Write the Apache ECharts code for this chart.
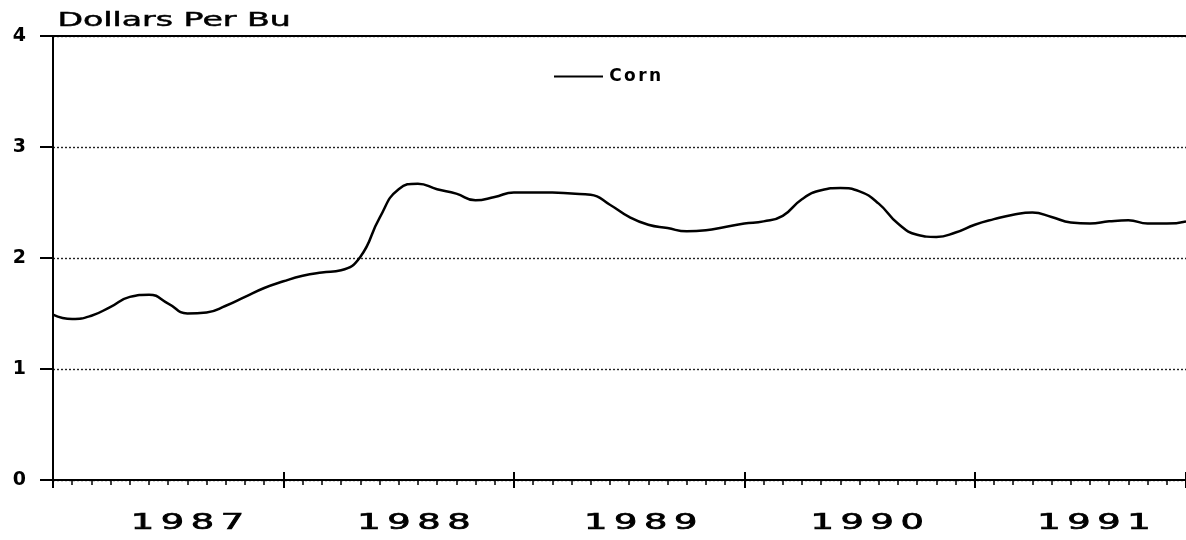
<!DOCTYPE html>
<html>
<head>
<meta charset="utf-8">
<script src="https://cdn.jsdelivr.net/npm/echarts@6/dist/echarts.min.js"></script>
<style>
html,body{margin:0;padding:0;background:#fff;}
#chart{width:1186px;height:540px;}
</style>
</head>
<body>
<div id="chart"></div>
<script>
// Month index 0 = Jan 1987 ... 59 = Dec 1991
const years = ['1987', '1988', '1989', '1990', '1991'];
const yearLabelPos = [7.0, 18.8, 30.6, 42.4, 54.2];
const yTicks = [0, 1, 2, 3, 4];
const cornPrices = [
  1.49, 1.45, 1.48, 1.56, 1.65, 1.67, 1.59, 1.50, 1.51, 1.57, 1.65, 1.73,
  1.79, 1.84, 1.87, 1.89, 2.01, 2.36, 2.62, 2.67, 2.62, 2.58, 2.52, 2.55,
  2.59, 2.59, 2.59, 2.58, 2.57, 2.48, 2.37, 2.30, 2.27, 2.24, 2.25, 2.28,
  2.31, 2.33, 2.38, 2.53, 2.61, 2.63, 2.60, 2.49, 2.31, 2.21, 2.19, 2.23,
  2.30, 2.35, 2.39, 2.41, 2.37, 2.32, 2.31, 2.33, 2.34, 2.31, 2.31, 2.33
];
const seriesName = 'Corn';
const yTitle = 'Dollars Per Bu';

const data = cornPrices.map((v, i) => [i, v]);
const yearLabelData = years.map((y, i) => [yearLabelPos[i], 0]);
const spaced = (s, cls) => s.split('').map(c => `{${cls}|${c}}`).join('');

const chart = echarts.init(document.getElementById('chart'), null, {renderer: 'canvas'});
const baseX = {type: 'value', min: 0, max: 59, interval: 12, position: 'bottom', offset: 0};
chart.setOption({
  animation: false,
  backgroundColor: '#fff',
  grid: {left: 53, right: 0, top: 36, bottom: 60, containLabel: false},
  graphic: [{
    type: 'text', left: 57, top: 11, scaleX: 1.66,
    style: {text: yTitle, font: '20px "DejaVu Sans"', fill: '#000', stroke: '#000', lineWidth: 0.5}
  }],
  legend: {
    left: 549, top: 63, itemWidth: 49, itemHeight: 2, itemGap: 12,
    data: [{name: seriesName, icon: 'rect'}],
    itemStyle: {color: '#000'},
    formatter: n => spaced(n, 'c'),
    textStyle: {rich: {c: {fontFamily: 'DejaVu Sans', fontWeight: 'bold', fontSize: 17, color: '#000', padding: [0, 1.2, 0, 1.2]}}}
  },
  xAxis: [
    Object.assign({}, baseX, {
      axisLine: {show: true, lineStyle: {color: '#000', width: 2}},
      axisTick: {show: true, inside: false, length: 8, lineStyle: {color: '#000', width: 2}},
      minorTick: {show: true, splitNumber: 12, length: 5, lineStyle: {color: '#000', width: 1.5}},
      axisLabel: {show: false}, splitLine: {show: false}
    }),
    Object.assign({}, baseX, {
      axisLine: {show: false},
      axisTick: {show: true, inside: true, length: 8, lineStyle: {color: '#000', width: 2}},
      axisLabel: {show: false}, splitLine: {show: false}
    }),
    Object.assign({}, baseX, {
      position: 'top',
      axisLine: {show: true, lineStyle: {color: '#000', width: 2}},
      axisTick: {show: false}, axisLabel: {show: false}, splitLine: {show: false}
    })
  ],
  yAxis: {
    type: 'value', min: 0, max: 4, interval: 1,
    axisLine: {show: true, lineStyle: {color: '#000', width: 2}},
    axisTick: {show: true, length: 13, lineStyle: {color: '#000', width: 2}},
    axisLabel: {
      margin: 27, color: '#000', fontFamily: 'DejaVu Sans', fontWeight: 'bold', fontSize: 19,
      formatter: v => (yTicks.includes(v) ? String(v) : '')
    },
    splitLine: {show: true, lineStyle: {color: '#222', width: 1.4, type: [2, 2]}}
  },
  series: [{
    name: seriesName, type: 'line', xAxisIndex: 0, data: data,
    smooth: true, symbol: 'none', showSymbol: false,
    lineStyle: {color: '#000', width: 2.5}, itemStyle: {color: '#000'}
  }, {
    name: 'yearLabels', type: 'custom', xAxisIndex: 0, data: yearLabelData,
    clip: false, silent: true,
    renderItem: (params, api) => {
      const p = api.coord([api.value(0), api.value(1)]);
      const digits = years[params.dataIndex].split('');
      const pitch = 30;
      return {
        type: 'group', x: p[0], y: p[1] + 44,
        children: digits.map((d, k) => ({
          type: 'text', x: (k - 1.5) * pitch, y: 0, scaleX: 1.75,
          style: {
            text: d, align: 'center', verticalAlign: 'middle',
            font: '21px "DejaVu Sans"', fill: '#000', stroke: '#000', lineWidth: 0.7
          }
        }))
      };
    }
  }]
});
</script>
</body>
</html>
